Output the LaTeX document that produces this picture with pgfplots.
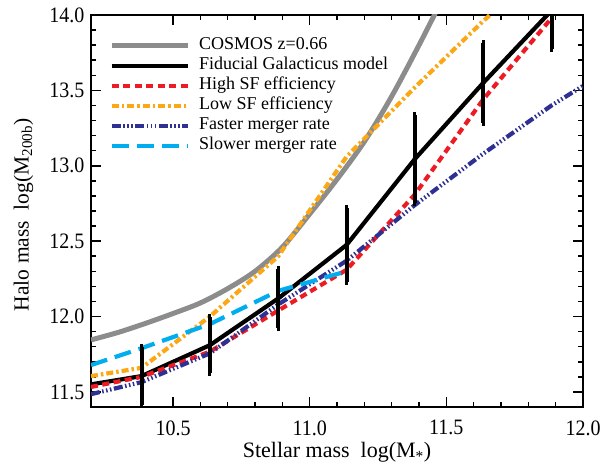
\documentclass[border=0pt]{standalone}
\usepackage{pgfplots}
\pgfplotsset{compat=1.18}
\usepackage{fontspec}
\setmainfont{Liberation Serif}
\definecolor{cgray}{RGB}{140,140,140}
\definecolor{cred}{RGB}{237,28,36}
\definecolor{corange}{RGB}{252,168,22}
\definecolor{cblue}{RGB}{46,49,146}
\definecolor{ccyan}{RGB}{0,174,239}
\begin{document}
\begin{tikzpicture}
\begin{axis}[
  scale only axis, width=492pt, height=392pt,
  at={(0,0)}, anchor=south west,
  xmin=10.2, xmax=12.0, ymin=11.4, ymax=14.0,
  xtick={10.5,11.0,11.5,12.0}, ytick={11.5,12.0,12.5,13.0,13.5,14.0},
  minor tick num=4,
  tick align=inside,
  major tick length=10pt, minor tick length=5pt,
  every tick/.style={black, line width=1.5pt},
  axis line style={line width=1.8pt},
  /pgf/number format/assume math mode=true,
  /pgf/number format/.cd, fixed, fixed zerofill, precision=1, /pgfplots/.cd,
  ticklabel style={font=\fontsize{20}{22}\selectfont, yscale=1.1},
  xticklabel style={inner sep=1pt, yshift=-11pt},
  yticklabel style={xshift=-3pt},
  xlabel={Stellar mass\ \ log(M\textsubscript{*})},
  ylabel={Halo mass\ \ log(M\textsubscript{200b})},
  xlabel style={font=\fontsize{22}{24}\selectfont, inner sep=0pt, at={(axis description cs:0.5,-0.1301)}, anchor=base},
  ylabel style={font=\fontsize{21.5}{24}\selectfont, at={(axis description cs:-0.137,0.49)}, anchor=center},
  legend image code/.code={\draw[#1] (0pt,0pt) -- (76pt,0pt);},
  legend style={draw=none, fill=none, inner sep=0pt, row sep=0pt,
    at={(axis description cs:0.0366,0.947)}, anchor=north west,
    font=\fontsize{18}{20}\selectfont,
    nodes={inner sep=2pt, text height=12pt, text depth=4pt},
    /tikz/every odd column/.append style={column sep=7pt}},
  legend cell align=left,
  clip=true,
]
% COSMOS z=0.66
\addplot[cgray, line width=5pt, smooth] coordinates {
(10.20,11.845) (10.30,11.895) (10.40,11.955) (10.50,12.02) (10.60,12.09)
(10.70,12.185) (10.80,12.30) (10.90,12.46) (11.00,12.68) (11.10,12.91)
(11.20,13.16) (11.30,13.46) (11.40,13.80) (11.47,14.05)};
\addlegendentry{COSMOS z=0.66}
% Fiducial
\addplot[black, line width=4.2pt] coordinates {
(10.2,11.55) (10.385,11.605) (10.635,11.81) (10.885,12.12) (11.135,12.475)
(11.385,13.045) (11.635,13.55) (11.885,14.03)};
\addlegendentry{Fiducial Galacticus model}
% High SF
\addplot[cred, line width=4.2pt, dash pattern=on 7pt off 4.5pt] coordinates {
(10.2,11.533) (10.385,11.60) (10.635,11.767) (10.885,12.04) (11.135,12.31)
(11.385,12.81) (11.635,13.44) (11.885,13.98)};
\addlegendentry{High SF efficiency}
% Low SF
\addplot[corange, line width=4.2pt, dash pattern=on 7pt off 3pt on 2.5pt off 3pt] coordinates {
(10.2,11.605) (10.385,11.66) (10.635,12.0) (10.885,12.40) (11.135,13.06)
(11.385,13.52) (11.635,13.96) (11.66,14.0)};
\addlegendentry{Low SF efficiency}
% Faster merger
\addplot[cblue, line width=4.2pt, dash pattern=on 9pt off 2.5pt on 1.5pt off 2.5pt on 1.5pt off 2.5pt on 1.5pt off 2.5pt] coordinates {
(10.2,11.485) (10.385,11.565) (10.635,11.756) (10.885,12.08) (11.135,12.37)
(11.385,12.74) (11.635,13.08) (11.885,13.40) (12.0,13.53)};
\addlegendentry{Faster merger rate}
% Slower merger
\addplot[ccyan, line width=4.2pt, dash pattern=on 17pt off 8pt] coordinates {
(10.2,11.678) (10.385,11.79) (10.635,11.95) (10.885,12.17) (11.135,12.30)};
\addlegendentry{Slower merger rate}
% error bars on fiducial
\addplot[black, only marks, mark=none, forget plot,
  error bars/.cd, y dir=both, y explicit,
  error bar style={line width=4pt, black, solid},
  error mark=-, error mark options={line width=3pt, mark size=3pt, black, solid}]
  coordinates {
(10.385,11.605) +- (0,0.19)
(10.635,11.81) +- (0,0.185)
(10.885,12.12) +- (0,0.197)
(11.135,12.475) +- (0,0.243)
(11.385,13.045) +- (0,0.293)
(11.635,13.55) +- (0,0.265)
(11.885,14.03) +- (0,0.257)};
\end{axis}
\pgfresetboundingbox
\path (-91pt,-56pt) rectangle (519pt,407pt);
\end{tikzpicture}
\end{document}
